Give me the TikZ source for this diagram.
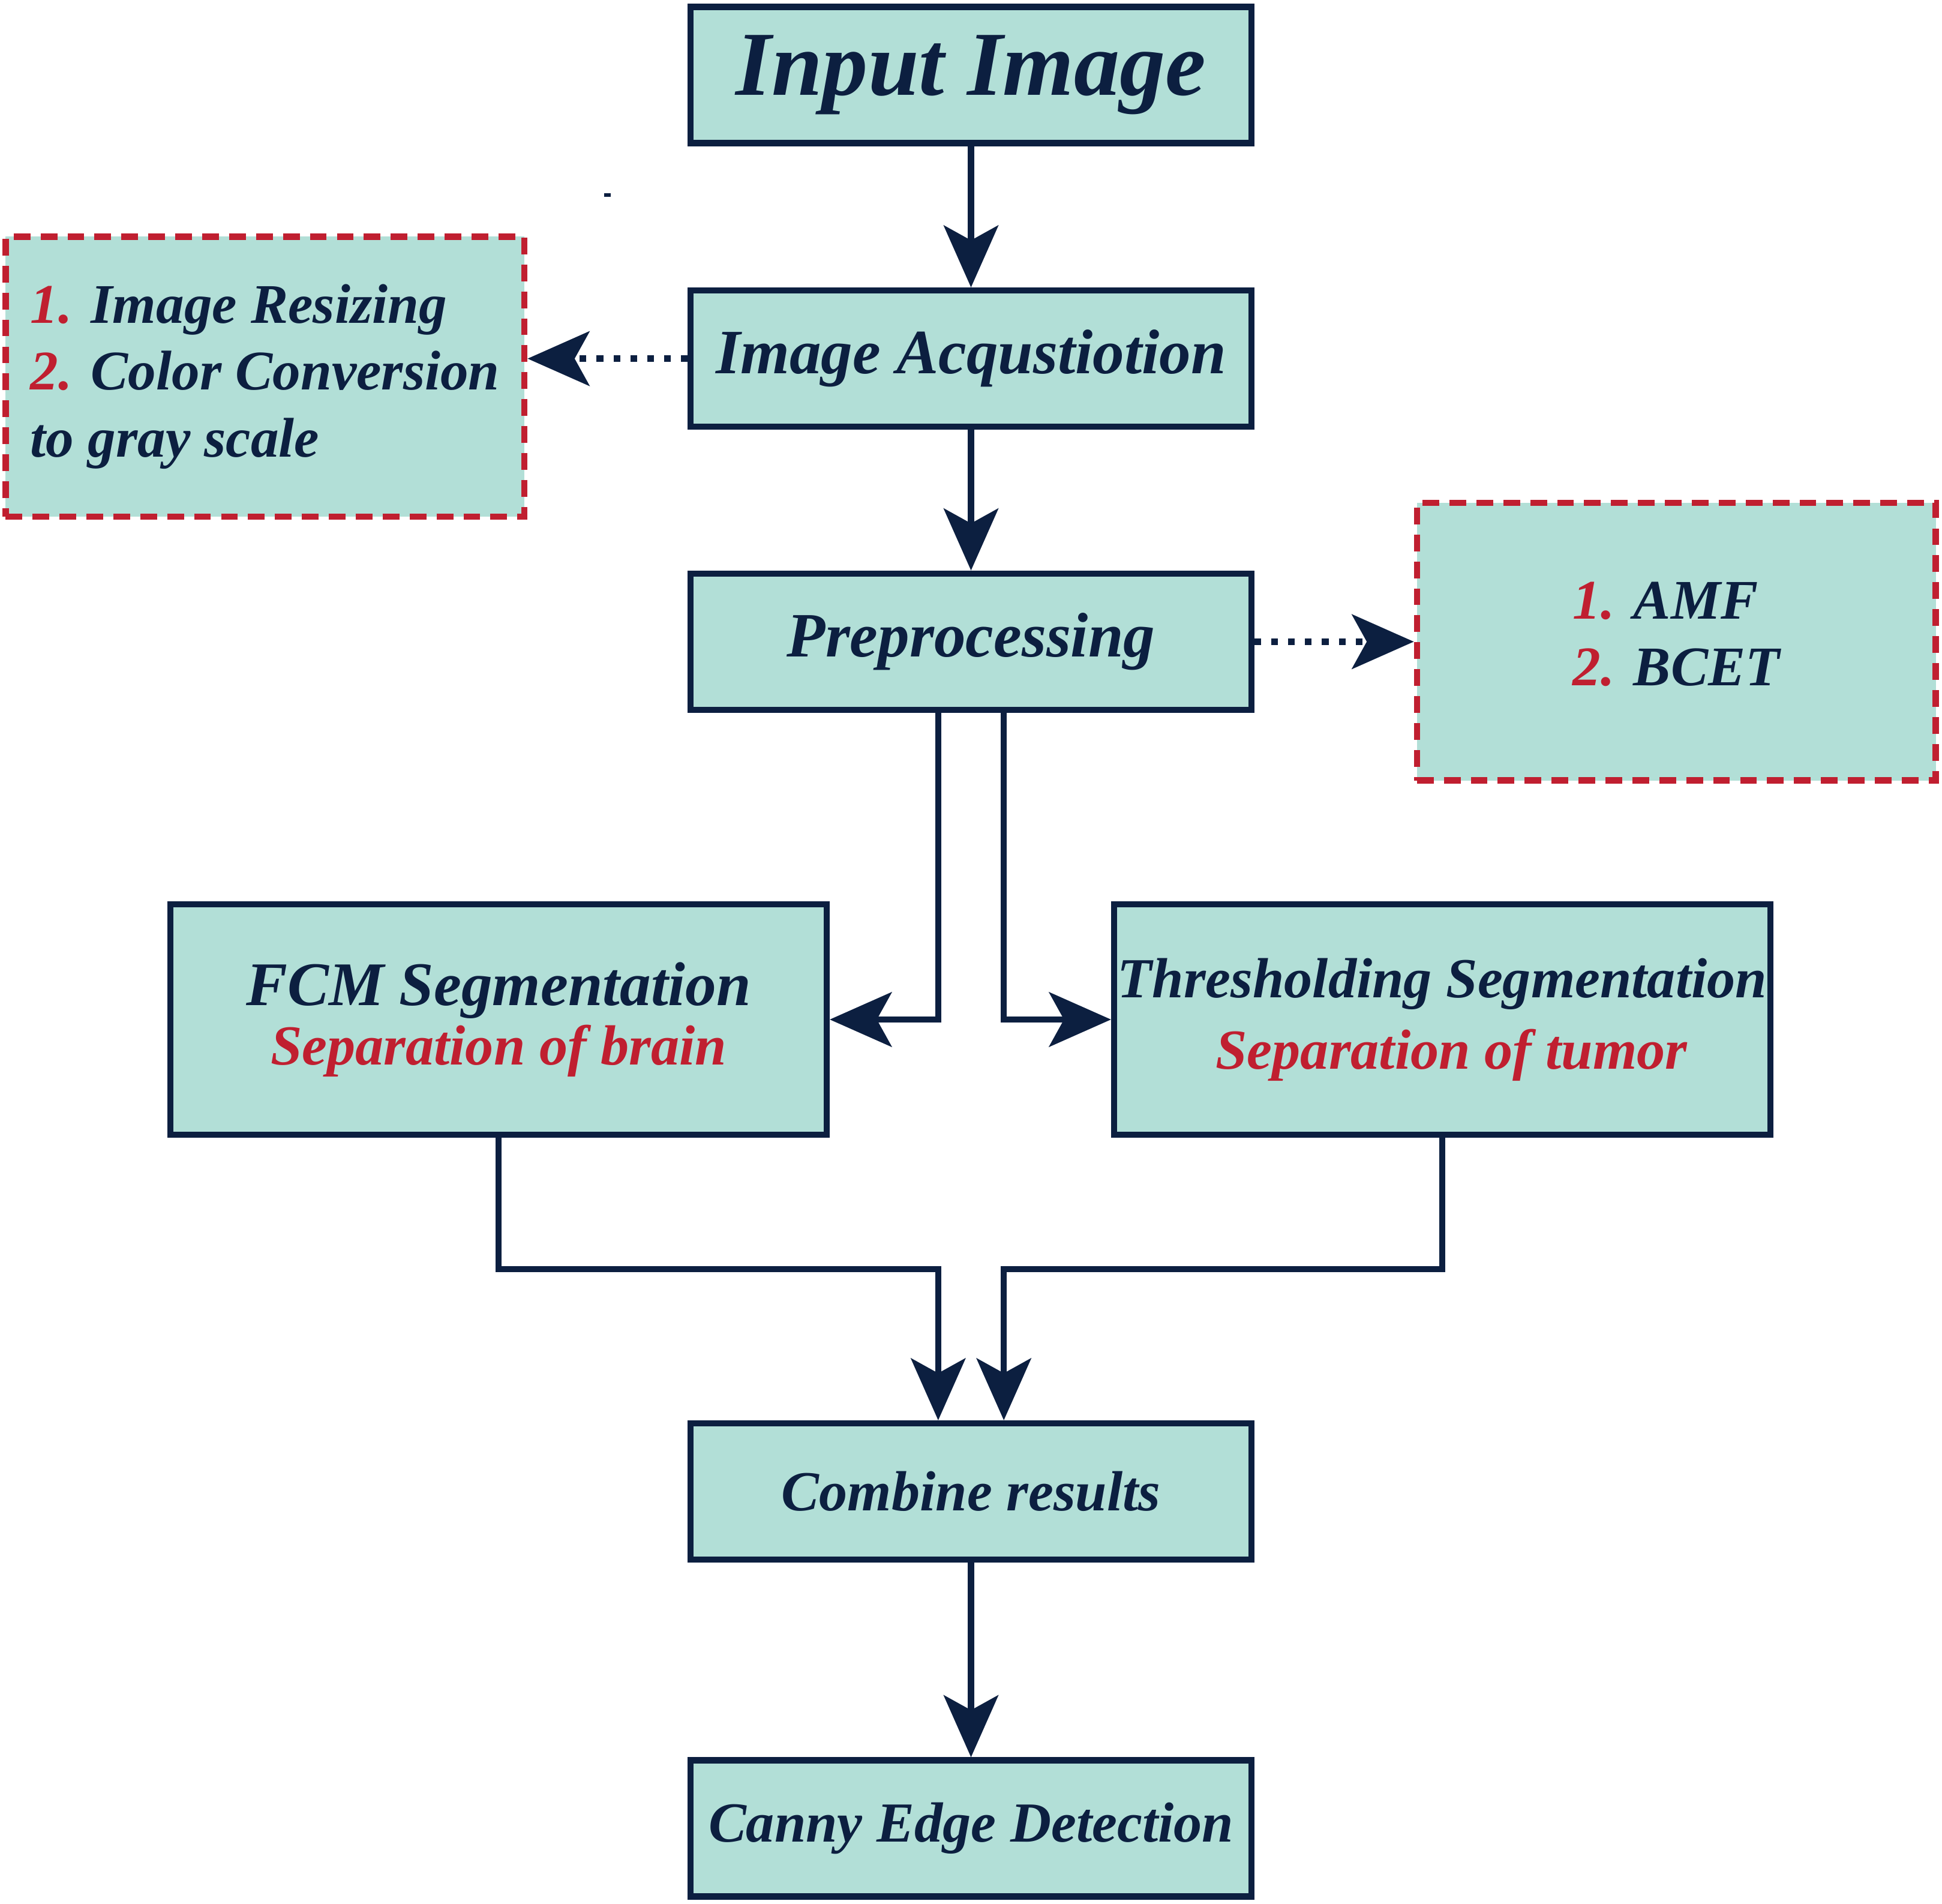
\documentclass[tikz,border=0pt]{standalone}
\usepackage{fontspec}
\setmainfont{Liberation Serif}
\usetikzlibrary{arrows.meta,positioning}
\definecolor{StageFill}{HTML}{B2DFD7}
\definecolor{StageLine}{HTML}{0C1F40}
\definecolor{StepRed}{HTML}{C01F30}

\tikzset{
  stagebox/.style={draw=StageLine, line width=0.1cm, fill=StageFill, text=StageLine,
    minimum width=9.06cm, minimum height=2.2cm, inner sep=0pt,
    font=\bfseries\itshape\fontsize{29pt}{34pt}\selectfont},
  segbox/.style={stagebox, minimum width=10.6cm, minimum height=3.72cm, align=center,
    font=\bfseries\itshape\fontsize{26pt}{30pt}\selectfont},
  notebox/.style={draw=StepRed, line width=0.1cm, dash pattern=on 0.27cm off 0.165cm,
    fill=StageFill, text=StageLine, align=left, inner sep=0pt,
    font=\bfseries\itshape\fontsize{25.7pt}{30.7pt}\selectfont},
  flow/.style={draw=StageLine, line width=0.1cm,
    -{Stealth[length=1cm,width=0.88cm,inset=0.24cm]}},
  hint/.style={flow, dash pattern=on 0.107cm off 0.165cm},
}
\newcommand{\stepno}[1]{{\color{StepRed}#1.}}

\begin{document}
\begin{tikzpicture}[x=0.02cm, y=-0.02cm]
\useasboundingbox (0,0) rectangle (1568,1537);

% main column
\node[stagebox, font=\bfseries\itshape\fontsize{42pt}{48pt}\selectfont] (input) at (784,60.5) {Input Image};
\node[stagebox] (acq) at (784,289.5) {Image Acqustiotion};
\node[stagebox] (prep) at (784,518) {Preprocessing};
\node[stagebox, font=\bfseries\itshape\fontsize{26pt}{30pt}\selectfont] (combine) at (784,1204) {Combine results};
\node[stagebox, font=\bfseries\itshape\fontsize{26pt}{30pt}\selectfont] (canny) at (784,1476) {Canny Edge Detection};

% side notes
\node[notebox, minimum width=8.38cm, minimum height=4.52cm] (resize) at (214,304)
  {\stepno{1} Image Resizing\\ \stepno{2} Color Conversion\\ to gray scale};
\node[notebox, minimum width=8.38cm, minimum height=4.48cm, text depth=0.25cm] (filters) at (1353.5,518)
  {\stepno{1} AMF\\ \stepno{2} BCET};

% segmentation
\node[segbox] (fcm) at (402.5,823)
  {{\fontsize{28.5pt}{30pt}\selectfont FCM Segmentation}\\[-0.1cm]
   {\color{StepRed}\fontsize{26pt}{30pt}\selectfont Separation of brain}};
\node[segbox] (thresh) at (1164.5,823)
  {Thresholding Segmentation\\[0.1cm]
   \hspace*{0.3cm}{\color{StepRed}Separation of tumor}};

% connectors
\draw[flow] (input) -- (acq);
\draw[hint] (acq.west) -- (acq.west -| resize.east);
\draw[flow] (acq) -- (prep);
\draw[hint] (prep.east) -- (filters.west);
\draw[flow] ([xshift=-0.53cm]prep.south) |- (fcm.east);
\draw[flow] ([xshift=0.53cm]prep.south) |- (thresh.west);
\draw[flow] (fcm.south) -- ++(0,106) -| ([xshift=-0.53cm]combine.north);
\draw[flow] (thresh.south) -- ++(0,106) -| ([xshift=0.53cm]combine.north);
\draw[flow] (combine) -- (canny);

\fill[StageLine] (488,156) rectangle (493,159);
\end{tikzpicture}
\end{document}
